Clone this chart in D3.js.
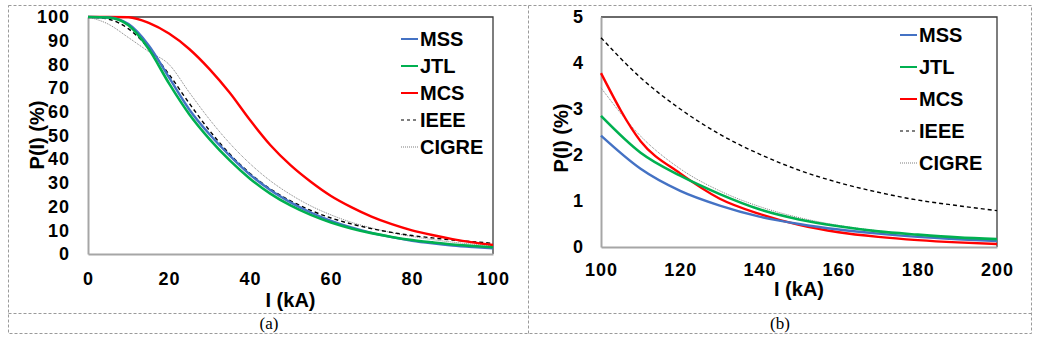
<!DOCTYPE html>
<html>
<head>
<meta charset="utf-8">
<script src="https://cdn.jsdelivr.net/npm/d3@7"></script>
<style>
  body { margin: 0; background: #fff; }
  svg { display: block; }
</style>
</head>
<body>
<div id="container"></div>
<script>
// series names and styles for the legend
const seriesNames = ["MSS", "JTL", "MCS", "IEEE", "CIGRE"];

// (a) 0 - 100 kA
const leftI = [0, 5, 10, 15, 20, 25, 30, 35, 40, 45, 50, 55, 60, 65, 70, 75, 80, 85, 90, 95, 100];
const leftMSS = [100, 99.8, 97, 88, 74.5, 61, 50.5, 41.5, 33.5, 27, 21.8, 17.5, 14, 11.2, 8.9, 7.1, 5.6, 4.5, 3.6, 2.95, 2.42];
const leftJTL = [100, 99.8, 96.5, 86.5, 72, 59, 48.5, 39.5, 31.8, 25.5, 20.5, 16.5, 13.3, 10.8, 8.8, 7.2, 5.9, 4.9, 4.0, 3.4, 2.85];
const leftMCS = [100, 100, 99.9, 97.5, 93, 86.5, 78, 68, 56.5, 46, 37.5, 30.5, 24.5, 19.8, 15.8, 12.6, 10.0, 8.0, 6.3, 4.9, 3.78];
const leftIEEE = [100, 99.1, 95.0, 86.8, 75.8, 63.6, 52.1, 42.2, 34.0, 27.5, 22.4, 18.4, 15.2, 12.7, 10.7, 9.1, 7.8, 6.8, 5.9, 5.2, 4.5];
const leftCIGRE = [100, 97.0, 91.3, 85.4, 80.0, 68.2, 56.8, 46.7, 38.1, 30.9, 25.1, 20.3, 16.5, 13.4, 11.0, 9.0, 7.4, 6.1, 5.0, 4.15, 3.46];
const leftXTicks = [0, 20, 40, 60, 80, 100];
const leftYTicks = [0, 10, 20, 30, 40, 50, 60, 70, 80, 90, 100];

// (b) 100 - 200 kA
const rightI = [100, 110, 120, 130, 140, 150, 160, 170, 180, 190, 200];
const rightMSS = [2.42, 1.7, 1.22, 0.9, 0.66, 0.5, 0.38, 0.29, 0.22, 0.17, 0.13];
const rightJTL = [2.85, 2.05, 1.55, 1.15, 0.82, 0.6, 0.45, 0.34, 0.27, 0.21, 0.17];
const rightMCS = [3.78, 2.3, 1.6, 1.05, 0.72, 0.48, 0.32, 0.22, 0.15, 0.1, 0.065];
const rightIEEE = [4.55, 3.68, 3.0, 2.45, 2.02, 1.67, 1.4, 1.19, 1.02, 0.9, 0.79];
const rightCIGRE = [3.46, 2.41, 1.70, 1.22, 0.88, 0.64, 0.47, 0.35, 0.26, 0.20, 0.15];
const rightXTicks = [100, 120, 140, 160, 180, 200];
const rightYTicks = [0, 1, 2, 3, 4, 5];

const styles = {
  MSS:   {color: "#4472C4", width: 2.4, dash: null},
  JTL:   {color: "#00B050", width: 2.6, dash: null},
  MCS:   {color: "#FF0000", width: 2.4, dash: null},
  IEEE:  {color: "#000000", width: 1.4, dash: "4,3"},
  CIGRE: {color: "#7f7f7f", width: 1, dash: "1,1"}
};

const width = 1042, height = 344;

let svg = d3.select("#container")
  .append("svg")
  .attr("width", width)
  .attr("height", height);

svg.append("rect").attr("width", width).attr("height", height).attr("fill", "#fff");

// dashed table cells around the two charts
const table = svg.append("g")
  .attr("fill", "none")
  .attr("stroke", "#9a9a9a")
  .attr("stroke-width", 1)
  .attr("stroke-dasharray", "3,2");
table.append("rect").attr("x", 8.5).attr("y", 5.5).attr("width", 1023).attr("height", 328);
table.append("line").attr("x1", 528.5).attr("x2", 528.5).attr("y1", 5.5).attr("y2", 333.5);
table.append("line").attr("x1", 8.5).attr("x2", 1031.5).attr("y1", 313.5).attr("y2", 313.5);

function drawChart(cfg) {
  const g = svg.append("g");
  const x = d3.scaleLinear().domain(cfg.xDomain).range([cfg.left, cfg.right]);
  const y = d3.scaleLinear().domain(cfg.yDomain).range([cfg.bottom, cfg.top]);

  // plot frame: dark top/right, grey left/bottom
  g.append("path")
    .attr("d", `M${cfg.left},${cfg.top}H${cfg.right}V${cfg.bottom}`)
    .attr("fill", "none").attr("stroke", "#3a3a3a").attr("stroke-width", 1.3);

  const fmt = d3.format("d");
  const xAxis = g.append("g")
    .attr("transform", `translate(0,${cfg.bottom})`)
    .call(d3.axisBottom(x).tickValues(cfg.xTicks).tickFormat(fmt).tickSize(0).tickPadding(cfg.xPad));
  const yAxis = g.append("g")
    .attr("transform", `translate(${cfg.left},0)`)
    .call(d3.axisLeft(y).tickValues(cfg.yTicks).tickFormat(fmt).tickSize(0).tickPadding(cfg.yPad));

  [xAxis, yAxis].forEach(a => {
    a.select(".domain").attr("stroke", "#a6a6a6").attr("stroke-width", 2);
    a.selectAll("text")
      .attr("font-family", "'Liberation Sans', Arial, sans-serif")
      .attr("font-weight", "bold")
      .attr("font-size", "18px")
      .attr("letter-spacing", "1px")
      .attr("fill", "#000");
  });

  const line = d3.line()
    .x(d => x(d[0]))
    .y(d => y(d[1]))
    .curve(d3.curveMonotoneX);

  // draw order so that green/blue sit like the original
  const order = ["CIGRE", "IEEE", "MCS", "MSS", "JTL"];
  order.forEach(name => {
    const vals = cfg.series[name];
    const st = styles[name];
    g.append("path")
      .datum(cfg.xs.map((v, i) => [v, vals[i]]))
      .attr("d", line)
      .attr("fill", "none")
      .attr("stroke", st.color)
      .attr("stroke-width", st.width)
      .attr("stroke-dasharray", st.dash);
  });

  // axis titles
  g.append("text")
    .text("I (kA)")
    .attr("x", (cfg.left + cfg.right) / 2)
    .attr("y", cfg.xTitleY)
    .attr("text-anchor", "middle")
    .attr("font-family", "'Liberation Sans', Arial, sans-serif")
    .attr("font-weight", "bold")
    .attr("font-size", "20px");

  g.append("text")
    .text("P(I) (%)")
    .attr("transform", `translate(${cfg.yTitleX},${cfg.yTitleY}) rotate(-90)`)
    .attr("text-anchor", "middle")
    .attr("dominant-baseline", "central")
    .attr("font-family", "'Liberation Sans', Arial, sans-serif")
    .attr("font-weight", "bold")
    .attr("font-size", "20px");

  // legend
  const leg = g.append("g");
  seriesNames.forEach((name, i) => {
    const st = styles[name];
    const yy = cfg.legY + i * cfg.legStep;
    leg.append("line")
      .attr("x1", cfg.legX).attr("x2", cfg.legX + 17)
      .attr("y1", yy).attr("y2", yy)
      .attr("stroke", st.color)
      .attr("stroke-width", name == "IEEE" || name == "CIGRE" ? 1.2 : 2)
      .attr("stroke-dasharray", name == "IEEE" ? "3,3" : st.dash);
    leg.append("text")
      .text(name)
      .attr("x", cfg.legX + 19)
      .attr("y", yy)
      .attr("dominant-baseline", "central")
      .attr("font-family", "'Liberation Sans', Arial, sans-serif")
      .attr("font-weight", "bold")
      .attr("font-size", "20px");
  });

  // caption under the chart
  g.append("text")
    .text(cfg.caption)
    .attr("x", cfg.capX)
    .attr("y", 329)
    .attr("text-anchor", "middle")
    .attr("font-family", "'Liberation Serif', 'Times New Roman', serif")
    .attr("font-size", "17px");
}

drawChart({
  xs: leftI,
  series: {MSS: leftMSS, JTL: leftJTL, MCS: leftMCS, IEEE: leftIEEE, CIGRE: leftCIGRE},
  xDomain: [0, 100], yDomain: [0, 100],
  xTicks: leftXTicks, yTicks: leftYTicks,
  left: 88, right: 493, top: 17, bottom: 254,
  xPad: 18, yPad: 18,
  xTitleY: 307, yTitleX: 37, yTitleY: 135,
  legX: 401, legY: 39, legStep: 27,
  caption: "(a)", capX: 269
});

drawChart({
  xs: rightI,
  series: {MSS: rightMSS, JTL: rightJTL, MCS: rightMCS, IEEE: rightIEEE, CIGRE: rightCIGRE},
  xDomain: [100, 200], yDomain: [0, 5],
  xTicks: rightXTicks, yTicks: rightYTicks,
  left: 601, right: 997, top: 17, bottom: 247,
  xPad: 16, yPad: 17,
  xTitleY: 296, yTitleX: 561, yTitleY: 138,
  legX: 900, legY: 35, legStep: 32,
  caption: "(b)", capX: 780
});
</script>
</body>
</html>
